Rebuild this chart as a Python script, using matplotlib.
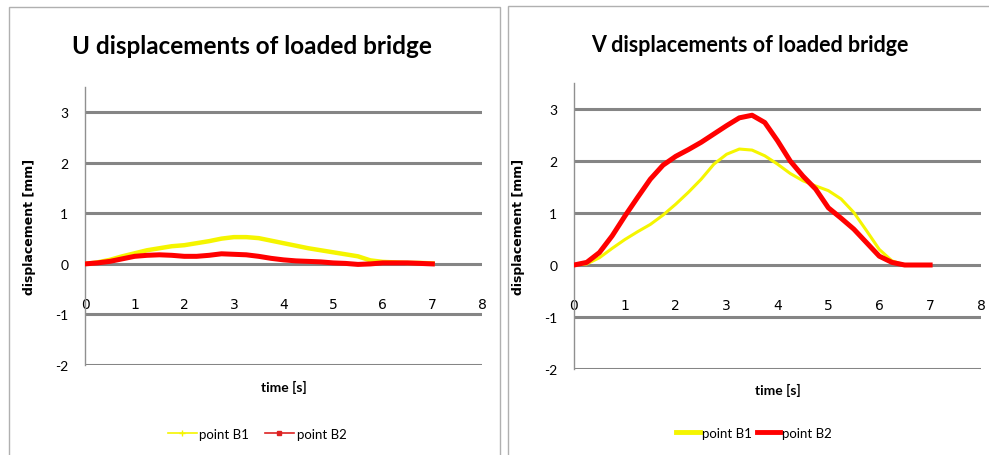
import matplotlib.pyplot as plt
from matplotlib.lines import Line2D
from matplotlib.patches import Rectangle

# time axis [s]
time = [0, 0.25, 0.5, 0.75, 1.0, 1.25, 1.5, 1.75, 2.0, 2.25, 2.5, 2.75, 3.0, 3.25,
        3.5, 3.75, 4.0, 4.25, 4.5, 4.75, 5.0, 5.25, 5.5, 5.75, 6.0, 6.25, 6.5, 6.75, 7.0]

# U displacements [mm]
u_b1 = [0, 0.03, 0.08, 0.15, 0.21, 0.27, 0.31, 0.35, 0.37, 0.41, 0.45, 0.50, 0.53, 0.53,
        0.51, 0.46, 0.41, 0.36, 0.31, 0.27, 0.23, 0.19, 0.15, 0.07, 0.04, 0.03, 0.02, 0.02, 0.01]
u_b2 = [0, 0.02, 0.05, 0.10, 0.15, 0.17, 0.18, 0.17, 0.15, 0.15, 0.17, 0.20, 0.19, 0.18,
        0.15, 0.11, 0.08, 0.06, 0.05, 0.04, 0.02, 0.01, -0.01, 0.0, 0.02, 0.02, 0.02, 0.01, 0.0]

# V displacements [mm]
v_b1 = [0, 0.02, 0.14, 0.32, 0.49, 0.64, 0.78, 0.96, 1.17, 1.40, 1.65, 1.94, 2.13, 2.23,
        2.21, 2.10, 1.94, 1.76, 1.62, 1.52, 1.43, 1.27, 1.01, 0.66, 0.30, 0.08, 0.0, 0.0, 0.0]
v_b2 = [0, 0.05, 0.24, 0.56, 0.94, 1.30, 1.65, 1.92, 2.09, 2.22, 2.36, 2.52, 2.68, 2.83,
        2.88, 2.74, 2.39, 2.00, 1.71, 1.46, 1.10, 0.90, 0.69, 0.43, 0.17, 0.05, 0.0, 0.0, 0.0]

yticks = [-2, -1, 0, 1, 2, 3]
xticks = [0, 1, 2, 3, 4, 5, 6, 7, 8]

NARROW = ['Lato', 'DejaVu Sans']
YELLOW = '#f5f500'
RED = '#ff0000'
GRID = '#858585'

fig = plt.figure(figsize=(9.89, 4.56), dpi=100)
W, H = 989, 456

# chart frames
fig.patches.append(Rectangle((9 / W, -0.05), 491 / W, 1 - 8 / H + 0.05, transform=fig.transFigure,
                             fill=False, edgecolor='#b0b0b0', linewidth=1))
fig.patches.append(Rectangle((508 / W, -0.05), 0.6, 1 - 7 / H + 0.05, transform=fig.transFigure,
                             fill=False, edgecolor='#b0b0b0', linewidth=1))


def setup(ax, title, title_size, title_x, title_y):
    ax.set_xlim(0, 8)
    ax.set_ylim(-2, 3.5)
    ax.set_yticks(yticks)
    ax.set_xticks(xticks)
    ax.set_yticklabels([str(v) for v in yticks], family=NARROW, fontsize=10)
    ax.set_xticklabels([str(v) for v in xticks], family=NARROW, fontsize=10)
    for y in yticks:
        ax.axhline(y, color=GRID, linewidth=2.2, zorder=1)
    for s in ['top', 'right']:
        ax.spines[s].set_visible(False)
    ax.spines['left'].set_color('#909090')
    ax.spines['left'].set_linewidth(1)
    ax.spines['bottom'].set_position(('data', 0))
    ax.spines['bottom'].set_visible(False)
    ax.tick_params(axis='x', length=0, pad=24)
    ax.tick_params(axis='y', length=0, pad=12)
    ax.set_ylabel('displacement [mm]', fontsize=9, fontweight='bold', labelpad=14)
    ax.set_xlabel('time [s]', family=NARROW, fontsize=10, fontweight='bold')
    ax.xaxis.set_label_coords(0.5, -0.05)
    fig.text(title_x, title_y, title, ha='center', va='center',
             family=NARROW, fontsize=title_size, fontweight='bold')


# left: U
ax1 = fig.add_axes([85 / W, 1 - 366 / H, 397 / W, 278 / H])
ax1.plot(time, u_b1, color=YELLOW, linewidth=3.2, zorder=3)
ax1.plot(time, u_b2, color=RED, linewidth=3.6, zorder=4)
setup(ax1, 'U displacements of loaded bridge', 17.5, 252 / W, 1 - 46 / H)
ax1.xaxis.set_label_coords(0.5, -0.055)
h1 = [Line2D([], [], color=YELLOW, linewidth=1.2, marker='+', markersize=4),
      Line2D([], [], color='#dd2222', linewidth=1.2, marker='s', markersize=2.5)]
fig.legend(h1, ['point B1', 'point B2'], loc='center', bbox_to_anchor=(257 / W, 1 - 435 / H),
           ncol=2, frameon=False, handlelength=2.2, handletextpad=0.2, columnspacing=1.2,
           prop={'family': NARROW, 'size': 9.5})

# right: V
ax2 = fig.add_axes([574 / W, 1 - 370 / H, 407 / W, 286 / H])
ax2.plot(time, v_b1, color=YELLOW, linewidth=2.2, zorder=3)
ax2.plot(time, v_b2, color=RED, linewidth=3.6, zorder=4)
setup(ax2, 'V displacements of loaded bridge', 15.5, 750 / W, 1 - 45 / H)
ax2.xaxis.set_label_coords(0.5, -0.05)
h2 = [Line2D([], [], color=YELLOW, linewidth=3.5),
      Line2D([], [], color=RED, linewidth=3.5)]
fig.legend(h2, ['point B1', 'point B2'], loc='center', bbox_to_anchor=(754 / W, 1 - 434 / H),
           ncol=2, frameon=False, handlelength=1.8, handletextpad=0.1, columnspacing=0.4,
           prop={'family': NARROW, 'size': 9.5})

fig.savefig('out.png', dpi=100)
